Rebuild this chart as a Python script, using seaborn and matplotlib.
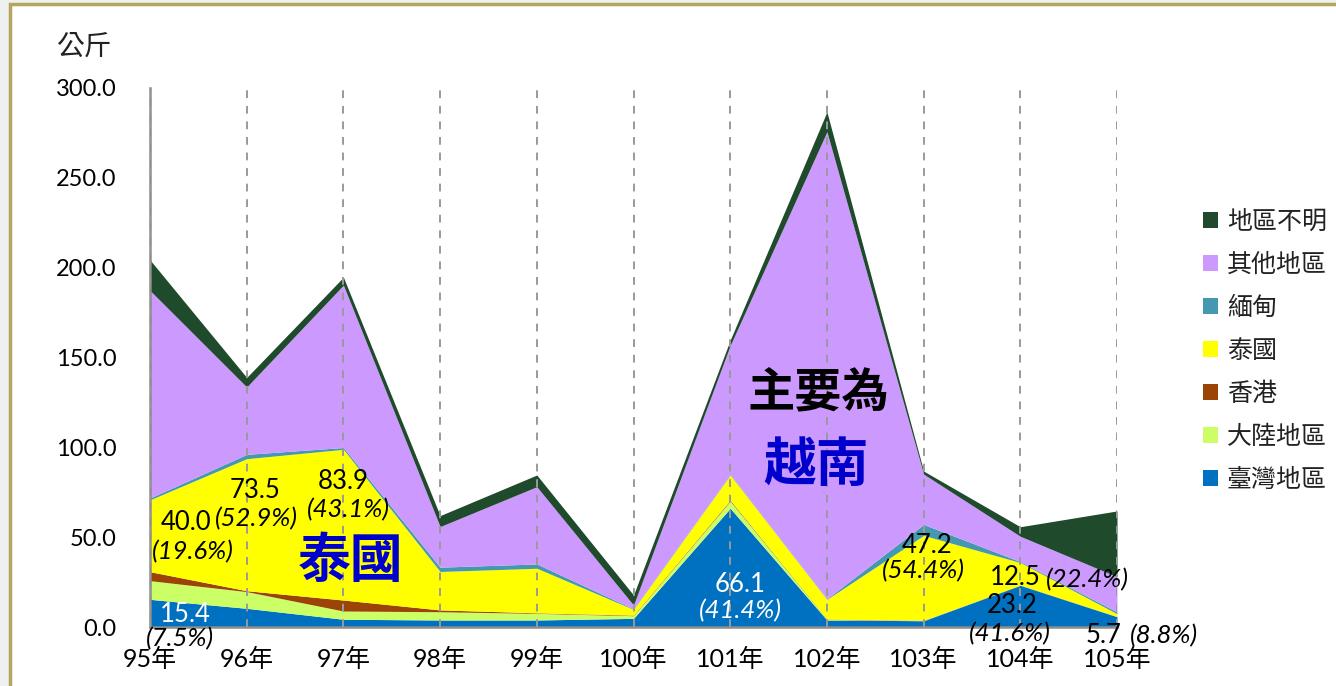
import numpy as np
import pandas as pd
import matplotlib
matplotlib.use("Agg")
import matplotlib.pyplot as plt
from matplotlib.patches import Patch, Rectangle
import seaborn as sns

years = ["95年", "96年", "97年", "98年", "99年", "100年", "101年", "102年", "103年", "104年", "105年"]

# 公斤 (stack order bottom -> top)
taiwan   = [15.4, 10.4, 4.3, 3.9, 3.9, 4.8, 66.1, 3.9, 3.5, 23.2, 5.7]
mainland = [10.4, 9.3, 4.6, 4.6, 3.7, 1.5, 4.0, 0.3, 0.2, 0.1, 0.1]
hongkong = [5.0, 0.5, 6.1, 1.0, 0.3, 0.3, 0.5, 0.2, 0.1, 0.1, 0.1]
thailand = [40.0, 73.5, 83.9, 21.4, 24.8, 3.2, 14.0, 11.0, 47.2, 12.5, 1.5]
myanmar  = [1.0, 2.4, 1.0, 2.4, 2.4, 0.3, 0.3, 0.3, 6.1, 0.5, 1.0]
other    = [115.5, 37.5, 90.4, 22.6, 43.0, 2.1, 71.8, 260.0, 28.0, 14.1, 19.6]
unknown  = [17.0, 5.3, 4.4, 6.1, 6.5, 5.6, 3.0, 11.0, 1.7, 5.3, 36.6]

series_names = ["臺灣地區", "大陸地區", "香港", "泰國", "緬甸", "其他地區", "地區不明"]
palette = sns.color_palette(["#0070C0", "#CCFF66", "#9C4306", "#FFFF00",
                             "#4499B0", "#CC99FF", "#1F4A2B"])

df = pd.DataFrame({"year": years, "臺灣地區": taiwan, "大陸地區": mainland,
                   "香港": hongkong, "泰國": thailand, "緬甸": myanmar,
                   "其他地區": other, "地區不明": unknown})

sns.set_theme(style="white")
plt.rcParams["font.family"] = ["Lato", "Noto Sans CJK TC", "DejaVu Sans"]
cjk = ["Noto Sans CJK TC", "DejaVu Sans"]

fig = plt.figure(figsize=(13.36, 6.86), dpi=100)
fig.patch.set_facecolor("white")
# slide frame
fig.patches.append(Rectangle((0, 0), 9 / 1336, 1, transform=fig.transFigure,
                             facecolor="#EDF1EF", edgecolor="none", zorder=0))
fig.patches.append(Rectangle((0, 1 - 4 / 686), 1, 4 / 686, transform=fig.transFigure,
                             facecolor="#EDF1EF", edgecolor="none", zorder=0))
fig.patches.append(Rectangle((10 / 1336, -0.05), 1.1, 1.05 - 4 / 686, transform=fig.transFigure,
                             facecolor="none", edgecolor="#B5A55E", linewidth=2.5, zorder=1))

ax = fig.add_axes([150 / 1336, 59 / 686, 967 / 1336, 539 / 686])
x = np.arange(len(years))
ax.stackplot(x, *[df[c] for c in series_names], colors=palette, linewidth=0)

ax.set_xlim(0, len(years) - 1)
ax.set_ylim(0, 300)
ax.set_yticks(np.arange(0, 301, 50))
ax.set_yticklabels([f"{v:.1f}" for v in np.arange(0, 301, 50)])
ax.set_xticks(x)
ax.set_xticklabels(years)
ax.grid(axis="x", color="#9A9A9A", linestyle=(0, (4, 4)), linewidth=1.4)
ax.grid(axis="y", visible=False)
ax.set_axisbelow(False)
ax.set_facecolor("none")
for s in ["top", "right"]:
    ax.spines[s].set_visible(False)
for s in ["left", "bottom"]:
    ax.spines[s].set_color("#8C8C8C")
    ax.spines[s].set_linewidth(1.8)
ax.tick_params(axis="y", direction="in", length=7, width=1.5, color="#8C8C8C",
               pad=24, labelsize=17, labelcolor="black")
ax.tick_params(axis="x", direction="out", length=9, width=1.4, color="#9A9A9A",
               pad=6, labelsize=18, labelcolor="black")

fig.text(85 / 1336, 1 - 47 / 686, "公斤", fontsize=20, family=cjk,
         ha="center", va="center", color="#222222")

# value labels
def lab(xv, yv, s, color="black", italic=False):
    ax.text(xv, yv, s, color=color, fontsize=18.5, ha="center", va="center",
            style="italic" if italic else "normal", clip_on=False, zorder=5)

lab(0.36, 7.2, "15.4", color="white")
lab(0.31, -6.6, "(7.5%)", italic=True)
lab(0.37, 57.9, "40.0")
lab(0.44, 41.7, "(19.6%)", italic=True)
lab(1.09, 75.7, "73.5")
lab(1.10, 60.1, "(52.9%)", italic=True)
lab(2.00, 81.2, "83.9")
lab(2.05, 65.1, "(43.1%)", italic=True)
lab(6.10, 23.9, "66.1", color="white")
lab(6.11, 8.9, "(41.4%)", color="white", italic=True)
lab(8.04, 45.1, "47.2")
lab(8.00, 31.2, "(54.4%)", italic=True)
lab(8.95, 27.3, "12.5")
lab(9.69, 26.2, "(22.4%)", italic=True)
lab(8.92, 11.7, "23.2")
lab(8.89, -3.9, "(41.6%)", italic=True)
lab(9.86, -4.9, "5.7")
lab(10.49, -4.6, "(8.8%)", italic=True)

ax.text(2.07, 36.2, "泰國", fontsize=38, family=cjk, weight="bold",
        color="#0000CC", ha="center", va="center", zorder=5)
ax.text(6.91, 130.2, "主要為", fontsize=34, family=cjk, weight="bold",
        color="black", ha="center", va="center", zorder=5)
ax.text(6.89, 90.1, "越南", fontsize=38, family=cjk, weight="bold",
        color="#0000CC", ha="center", va="center", zorder=5)

handles = [Patch(facecolor=palette[i], edgecolor="none", label=series_names[i])
           for i in range(len(series_names) - 1, -1, -1)]
fig.legend(handles=handles, loc="center left", bbox_to_anchor=(1203 / 1336, 1 - 351 / 686),
           frameon=False, prop={"family": cjk, "size": 18}, handlelength=0.6,
           handleheight=0.6, handletextpad=0.35, labelspacing=0.68, borderpad=0,
           borderaxespad=0, labelcolor="#222222")

fig.savefig("out.png", dpi=100)
